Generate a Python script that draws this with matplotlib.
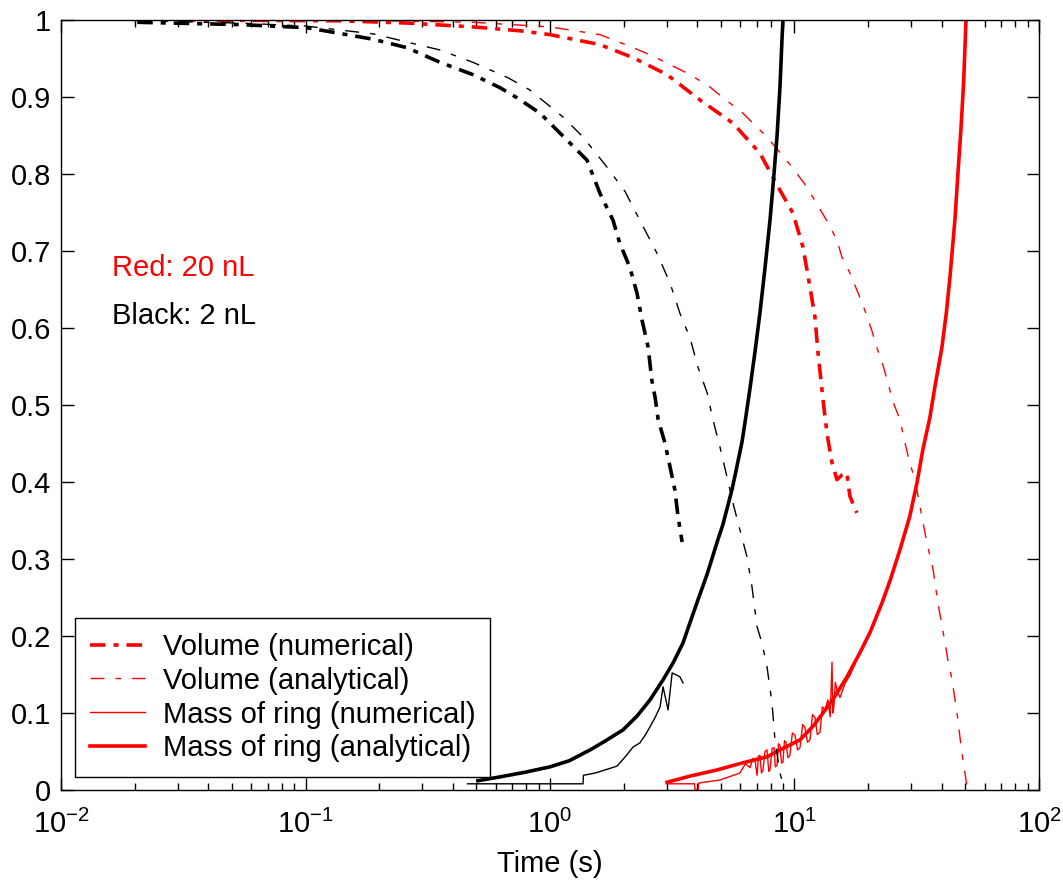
import numpy as np
import matplotlib
matplotlib.use("Agg")
import matplotlib.pyplot as plt
from matplotlib.ticker import LogLocator, FixedLocator, FuncFormatter

plt.rcParams['font.family'] = ['Liberation Sans', 'DejaVu Sans']
plt.rcParams['mathtext.fontset'] = 'custom'
plt.rcParams['mathtext.rm'] = 'Liberation Sans'
plt.rcParams['mathtext.it'] = 'Liberation Sans:italic'

# ---- data (time in s, normalised values) ----
# 20 nL (red)
red_vol_num_t = [0.0307, 0.138, 0.26, 0.484, 0.753, 1.0, 1.60, 2.19, 3.01, 4.11, 5.60, 7.22, 8.72,
                 9.86, 10.83, 11.57, 12.13, 12.48, 12.96, 13.33, 13.71, 14.24, 14.92, 15.64, 16.4,
                 16.55, 16.87, 18.0]
red_vol_num_y = [1.0, 0.999, 0.996, 0.991, 0.986, 0.981, 0.968, 0.951, 0.929, 0.896, 0.866, 0.827, 0.779,
                 0.749, 0.705, 0.653, 0.614, 0.568, 0.519, 0.484, 0.455, 0.425, 0.403, 0.409, 0.412,
                 0.399, 0.381, 0.360]

red_vol_ana_t = [0.0307, 0.138, 0.484, 1.0, 1.60, 2.19, 2.64, 3.10, 3.74, 4.51, 5.10, 6.15, 7.72, 9.77,
                 11.25, 12.13, 13.58, 14.92, 15.64, 16.87, 18.5, 19.4, 20.7, 21.9, 23.0, 24.1, 25.3,
                 27.0, 28.3, 29.6, 31.1, 33.2, 34.8, 36.9, 38.6, 40.1, 42.4, 44.1, 46.2, 48.4, 50.8]
red_vol_ana_y = [1.0, 1.0, 0.997, 0.991, 0.981, 0.964, 0.953, 0.942, 0.929, 0.913, 0.899, 0.879, 0.848,
                 0.809, 0.783, 0.765, 0.739, 0.714, 0.692, 0.671, 0.640, 0.623, 0.597, 0.571, 0.552,
                 0.529, 0.504, 0.481, 0.451, 0.425, 0.403, 0.355, 0.321, 0.286, 0.243, 0.214, 0.169,
                 0.143, 0.100, 0.048, 0.004]

red_mass_num_t = [3.01, 3.74, 3.90, 3.92, 4.04, 4.06, 4.96, 5.98, 6.30, 6.58, 6.75, 6.89, 7.03, 7.12,
                  7.22, 7.33, 7.43, 7.58, 7.72, 7.85, 7.94, 8.1, 8.25, 8.35, 8.48, 8.6, 8.72, 8.85,
                  8.97, 9.1, 9.23, 9.4, 9.58, 9.8, 10.05, 10.3, 10.53, 10.8, 11.04, 11.3, 11.57, 11.85,
                  12.13, 12.4, 12.72, 13.0, 13.33, 13.7, 14.0, 14.24, 14.35, 14.5, 14.7, 14.92, 15.35,
                  16.08, 16.87, 18.5, 20.4]
red_mass_num_y = [0.008, 0.008, 0.008, 0.0, 0.0, 0.009, 0.013, 0.022, 0.034, 0.029, 0.041, 0.039,
                  0.019, 0.044, 0.045, 0.022, 0.026, 0.050, 0.052, 0.024, 0.026, 0.054, 0.055, 0.030,
                  0.032, 0.060, 0.058, 0.035, 0.036, 0.064, 0.062, 0.042, 0.045, 0.074, 0.071, 0.052,
                  0.055, 0.085, 0.081, 0.062, 0.065, 0.098, 0.094, 0.072, 0.075, 0.108, 0.104, 0.117,
                  0.095, 0.166, 0.100, 0.110, 0.140, 0.130, 0.120, 0.138, 0.149, 0.178, 0.205]

red_mass_ana_t = [3.01, 3.74, 4.82, 6.10, 7.72, 8.72, 10.53, 12.0, 14.4, 16.4, 18.5, 20.4, 22.8, 24.6,
                  27.0, 29.6, 31.7, 33.5, 35.8, 37.6, 40.1, 41.8, 43.3, 45.3, 46.6, 48.0, 49.2, 50.3]
red_mass_ana_y = [0.010, 0.018, 0.026, 0.035, 0.043, 0.052, 0.065, 0.084, 0.118, 0.147, 0.178, 0.205,
                  0.243, 0.272, 0.312, 0.355, 0.399, 0.442, 0.484, 0.525, 0.575, 0.620, 0.668, 0.740,
                  0.800, 0.860, 0.920, 1.0]

# 2 nL (black)
blk_vol_num_t = [0.0205, 0.054, 0.101, 0.130, 0.189, 0.260, 0.355, 0.484, 0.625, 0.733, 0.910, 1.174,
                 1.417, 1.60, 1.81, 1.93, 2.12, 2.27, 2.38, 2.52, 2.61, 2.69, 2.77, 2.95, 3.10, 3.24,
                 3.34, 3.47]
blk_vol_num_y = [0.997, 0.994, 0.990, 0.984, 0.975, 0.964, 0.945, 0.929, 0.912, 0.899, 0.879, 0.844,
                 0.818, 0.775, 0.740, 0.710, 0.679, 0.645, 0.610, 0.575, 0.532, 0.510, 0.481, 0.451,
                 0.419, 0.390, 0.355, 0.322]

blk_vol_ana_t = [0.0205, 0.054, 0.101, 0.189, 0.355, 0.484, 0.673, 0.828, 1.13, 1.365, 1.71, 2.03, 2.33,
                 2.74, 3.10, 3.40, 3.74, 4.03, 4.39, 4.64, 4.96, 5.30, 5.60, 5.98, 6.39, 6.70, 7.03,
                 7.36, 7.72, 8.09, 8.32, 8.72, 9.06]
blk_vol_ana_y = [0.999, 0.996, 0.992, 0.982, 0.961, 0.945, 0.925, 0.909, 0.874, 0.848, 0.809, 0.777,
                 0.740, 0.697, 0.658, 0.619, 0.587, 0.549, 0.516, 0.481, 0.445, 0.406, 0.373, 0.338,
                 0.303, 0.264, 0.212, 0.191, 0.160, 0.113, 0.065, 0.022, 0.003]

blk_mass_num_t = [0.46, 1.365, 1.37, 1.53, 1.68, 1.88, 2.03, 2.19, 2.33, 2.45, 2.565, 2.69, 2.82, 2.90,
                  3.04, 3.16, 3.40, 3.50]
blk_mass_num_y = [0.008, 0.008, 0.019, 0.022, 0.026, 0.031, 0.043, 0.056, 0.061, 0.071, 0.082, 0.094,
                  0.108, 0.134, 0.104, 0.152, 0.147, 0.139]

blk_mass_ana_t = [0.507, 0.625, 0.79, 1.0, 1.2, 1.458, 1.67, 1.989, 2.27, 2.565, 2.90, 3.20, 3.50, 3.67,
                  4.03, 4.39, 4.86, 5.10, 5.55, 5.71, 6.10, 6.28, 6.58, 6.90, 7.22, 7.57, 7.94, 8.17,
                  8.48, 8.73, 8.89, 8.97]
blk_mass_ana_y = [0.012, 0.017, 0.023, 0.030, 0.038, 0.052, 0.063, 0.078, 0.096, 0.117, 0.143, 0.166,
                  0.191, 0.210, 0.247, 0.280, 0.325, 0.345, 0.390, 0.408, 0.452, 0.478, 0.522, 0.570,
                  0.619, 0.677, 0.740, 0.785, 0.848, 0.915, 0.975, 1.0]

fs = 21
dashdot = (4.3, 2.2, 1.4, 2.2)
dashed = (10, 8, 4, 8)

fig = plt.figure(figsize=(10.63, 8.88), dpi=100)
ax = fig.add_axes([0.0574, 0.1104, 0.92, 0.8671])

# red (20 nL)
ax.plot(red_vol_num_t, red_vol_num_y, color='red', lw=2.6, dashes=dashdot, label='Volume (numerical)')
ax.plot(red_vol_ana_t, red_vol_ana_y, color='red', lw=1.0, dashes=dashed, label='Volume (analytical)')
ax.plot(red_mass_num_t, red_mass_num_y, color='red', lw=1.0, label='Mass of ring (numerical)')
ax.plot(red_mass_ana_t, red_mass_ana_y, color='red', lw=2.6, label='Mass of ring (analytical)')

# black (2 nL)
ax.plot(blk_vol_num_t, blk_vol_num_y, color='black', lw=2.6, dashes=dashdot)
ax.plot(blk_vol_ana_t, blk_vol_ana_y, color='black', lw=1.0, dashes=dashed)
ax.plot(blk_mass_num_t, blk_mass_num_y, color='black', lw=1.0)
ax.plot(blk_mass_ana_t, blk_mass_ana_y, color='black', lw=2.6)

ax.set_xscale('log')
ax.set_xlim(1e-2, 1e2)
ax.set_ylim(0, 1)
ax.xaxis.set_major_locator(LogLocator(base=10, numticks=10))
ax.xaxis.set_minor_locator(LogLocator(base=10, subs=np.arange(2, 10), numticks=20))
ax.yaxis.set_major_locator(FixedLocator(np.arange(0, 1.01, 0.1)))
ax.yaxis.set_major_formatter(FuncFormatter(lambda v, p: '%g' % round(v, 1)))

ax.tick_params(which='both', direction='in', top=True, right=True, labelsize=fs, width=1.0)
ax.tick_params(which='major', length=9)
ax.tick_params(which='minor', length=5)
ax.tick_params(axis='x', which='major', pad=14)
ax.tick_params(axis='y', which='major', pad=7)
for s in ax.spines.values():
    s.set_linewidth(1.0)

ax.set_xlabel('Time (s)', fontsize=fs, labelpad=8)

ax.text(0.0162, 0.678, 'Red: 20 nL', color='red', fontsize=fs, va='center', ha='left')
ax.text(0.0162, 0.616, 'Black: 2 nL', color='black', fontsize=fs, va='center', ha='left')

leg = ax.legend(loc='lower left', bbox_to_anchor=(0.0143, 0.0169), borderaxespad=0, fontsize=fs,
                frameon=True, fancybox=False, edgecolor='black', framealpha=1,
                handlelength=1.9, handletextpad=0.6, borderpad=0.5, labelspacing=0.2)
leg.get_frame().set_linewidth(1.0)

fig.savefig('out.png', dpi=100)
